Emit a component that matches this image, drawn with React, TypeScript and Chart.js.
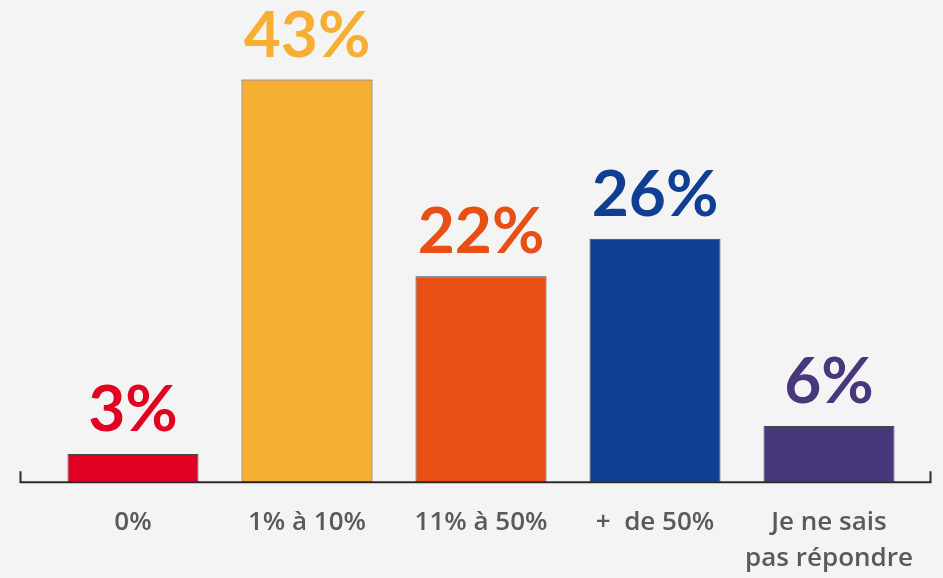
import React, { useEffect, useRef } from "react";
import { Chart, registerables } from "chart.js";

Chart.register(...registerables);

const categories: (string | string[])[] = ["0%", "1% à 10%", "11% à 50%", "+  de 50%", ["Je ne sais", "pas répondre"]];
const values = [3, 43, 22, 26, 6];
const barColors = ["#e10021", "#f6ae33", "#e84f14", "#0f3f92", "#48387b"];
const valueLabels = ["3%", "43%", "22%", "26%", "6%"];

const valueLabelPlugin = {
  id: "valueLabels",
  afterDatasetsDraw(chart: any) {
    const ctx = chart.ctx;
    const meta = chart.getDatasetMeta(0);
    ctx.save();
    ctx.font = "bold 64px Lato";
    ctx.textAlign = "center";
    ctx.textBaseline = "alphabetic";
    meta.data.forEach((bar: any, i: number) => {
      ctx.fillStyle = barColors[i];
      ctx.fillText(valueLabels[i], bar.x, bar.y - 23);
    });
    ctx.restore();
  },
};

const axisLinePlugin = {
  id: "axisLine",
  afterDatasetsDraw(chart: any) {
    const ctx = chart.ctx;
    const { left, right, bottom } = chart.chartArea;
    const l = left - 25.5;
    const r = right + 14.5;
    ctx.save();
    ctx.strokeStyle = "#2b2b2b";
    ctx.lineWidth = 2;
    ctx.beginPath();
    ctx.moveTo(l, bottom - 11);
    ctx.lineTo(l, bottom);
    ctx.lineTo(r, bottom);
    ctx.lineTo(r, bottom - 11);
    ctx.stroke();
    ctx.restore();
  },
};

export default function App() {
  const ref = useRef<HTMLCanvasElement>(null);
  useEffect(() => {
    document.body.style.margin = "0";
    document.body.style.background = "#f4f4f4";
    const chart = new Chart(ref.current!, {
      type: "bar",
      data: {
        labels: categories,
        datasets: [
          {
            data: values,
            backgroundColor: barColors,
            borderColor: "rgba(40,40,40,0.85)",
            borderWidth: 1,
            borderSkipped: false,
            barPercentage: 0.753,
            categoryPercentage: 1,
          },
        ],
      },
      options: {
        animation: false,
        responsive: false,
        maintainAspectRatio: false,
        layout: { padding: { left: 46, right: 27, top: 0, bottom: -21 } },
        plugins: { legend: { display: false }, tooltip: { enabled: false } },
        scales: {
          y: {
            display: false,
            min: 0,
            max: 51.5,
          },
          x: {
            grid: { display: false, drawTicks: false },
            border: { display: false },
            ticks: {
              color: "#5a5a5a",
              font: { family: "'Open Sans'", size: 26, weight: "600", lineHeight: 1.4 },
              padding: 22,
              maxRotation: 0,
              autoSkip: false,
            },
          },
        },
      },
      plugins: [valueLabelPlugin, axisLinePlugin],
    });
    return () => chart.destroy();
  }, []);
  return (
    <div style={{ width: 943, height: 578, background: "#f4f4f4" }}>
      <canvas ref={ref} width={943} height={578} />
    </div>
  );
}
